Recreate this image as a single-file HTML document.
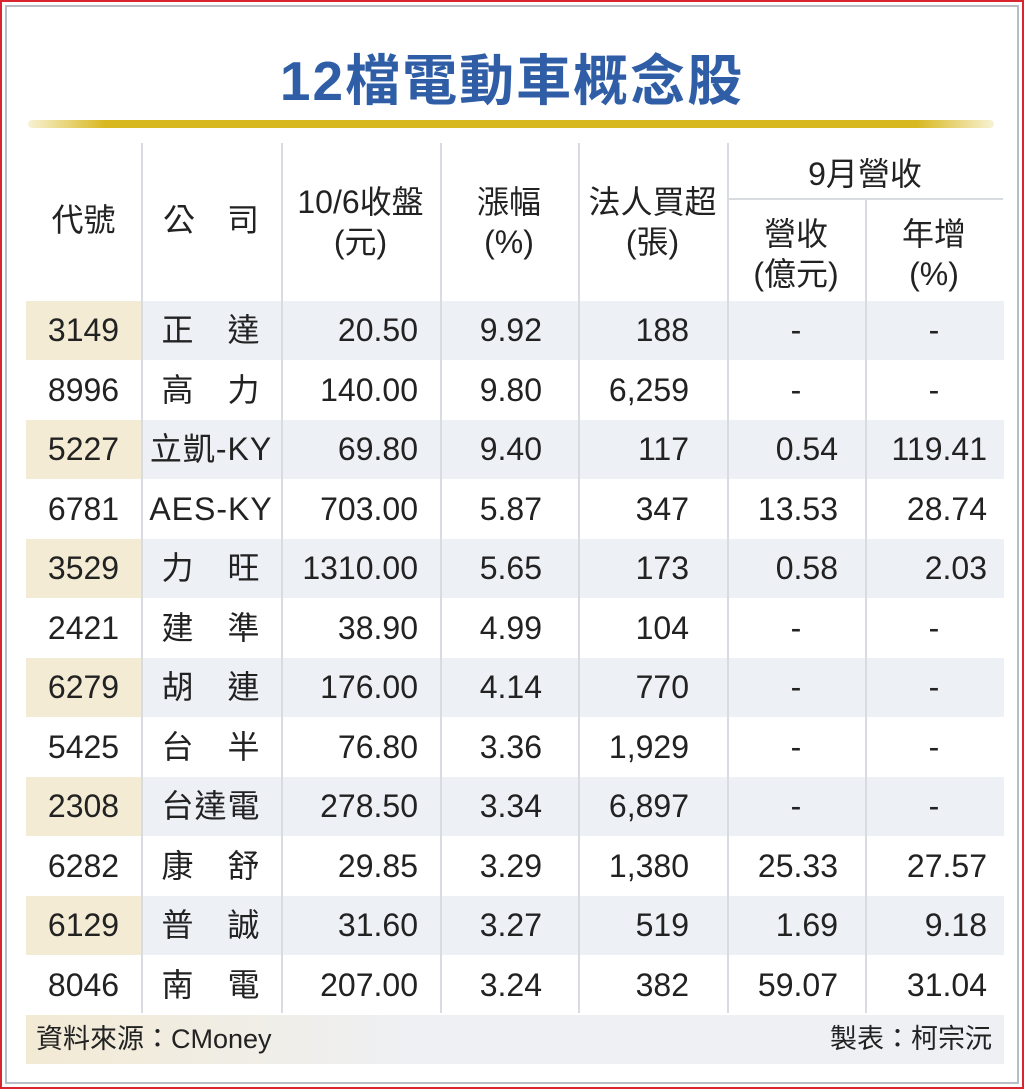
<!DOCTYPE html>
<html><head><meta charset="utf-8"><style>
body{margin:0;width:1024px;height:1089px;background:#fff;position:relative;overflow:hidden;font-family:"Liberation Sans","Noto Sans CJK TC",sans-serif;color:#222}
.a{position:absolute}
.frame{left:0;top:0;width:1020px;height:1085px;border:2px solid #d9252f}
.inner{left:5px;top:5px;width:1010px;height:1075px;border:2px solid #b8bcc4}
.title{left:0;width:1024px;top:36px;text-align:center;font-size:55px;color:#2f5ea6;font-weight:bold;letter-spacing:2px}
.gold{left:28px;top:120px;width:966px;height:8px;border-radius:4px;background:linear-gradient(90deg,rgba(220,190,40,0.2),#d8b820 8%,#d8b820 92%,rgba(220,190,40,0.2))}
.vl{width:2px;background:#d8dbe0}
.h{font-size:32px;text-align:center;line-height:40px}
.row{left:26px;width:978px;height:59px}
.c{position:absolute;top:0;height:59px;line-height:59px;font-size:32px}
</style></head><body>
<div class="a frame"></div><div class="a inner"></div>
<div class="a title">12檔電動車概念股</div>
<div class="a gold"></div>

<div class="a h" style="left:26px;width:115px;top:200px">代號</div>
<div class="a h" style="left:141px;width:140px;top:200px">公　司</div>
<div class="a h" style="left:281px;width:159px;top:182px">10/6收盤<br>(元)</div>
<div class="a h" style="left:440px;width:138px;top:182px">漲幅<br>(%)</div>
<div class="a h" style="left:578px;width:149px;top:182px">法人買超<br>(張)</div>
<div class="a h" style="left:727px;width:276px;top:154px">9月營收</div>
<div class="a" style="left:727px;top:198px;width:276px;height:2px;background:#d8dbe0"></div>
<div class="a h" style="left:727px;width:138px;top:214px">營收<br>(億元)</div>
<div class="a h" style="left:865px;width:138px;top:214px">年增<br>(%)</div>

<div id="rows"></div>
<script>
const d=[["3149","正　達","20.50","9.92","188","-","-"],["8996","高　力","140.00","9.80","6,259","-","-"],["5227","立凱-KY","69.80","9.40","117","0.54","119.41"],["6781","AES-KY","703.00","5.87","347","13.53","28.74"],["3529","力　旺","1310.00","5.65","173","0.58","2.03"],["2421","建　準","38.90","4.99","104","-","-"],["6279","胡　連","176.00","4.14","770","-","-"],["5425","台　半","76.80","3.36","1,929","-","-"],["2308","台達電","278.50","3.34","6,897","-","-"],["6282","康　舒","29.85","3.29","1,380","25.33","27.57"],["6129","普　誠","31.60","3.27","519","1.69","9.18"],["8046","南　電","207.00","3.24","382","59.07","31.04"]];
let h="";
d.forEach((r,i)=>{const y=301+i*59.5;const sh=i%2==0;
h+=`<div class="a row" style="top:${y}px;background:${sh?'#edf0f5':'#fff'}">`;
if(sh)h+=`<div class="c" style="left:0;width:115px;background:#f4ebd4"></div>`;
h+=`<div class="c" style="left:0;width:115px;text-align:center">${r[0]}</div>`;
h+=`<div class="c" style="left:115px;width:140px;text-align:center;white-space:nowrap;letter-spacing:1px">${r[1]}</div>`;
h+=`<div class="c" style="left:255px;width:137px;text-align:right">${r[2]}</div>`;
h+=`<div class="c" style="left:414px;width:102px;text-align:right">${r[3]}</div>`;
h+=`<div class="c" style="left:552px;width:111px;text-align:right">${r[4]}</div>`;
if(r[5]=="-"){h+=`<div class="c" style="left:701px;width:138px;text-align:center">-</div><div class="c" style="left:839px;width:138px;text-align:center">-</div>`}
else{h+=`<div class="c" style="left:701px;width:111px;text-align:right">${r[5]}</div><div class="c" style="left:839px;width:122px;text-align:right">${r[6]}</div>`}
h+=`</div>`;});
[141,281,440,578,727,865].forEach(x=>{h+=`<div class="a vl" style="left:${x}px;top:${x==865?200:143}px;height:${x==865?813:870}px"></div>`});
document.getElementById('rows').innerHTML=h;
</script>
<div class="a" style="left:26px;top:1015px;width:978px;height:49px;background:linear-gradient(90deg,#f3ead4,#eef0f4 40%,#eef0f4)"></div>
<div class="a" style="left:36px;top:1021px;font-size:27px;line-height:36px">資料來源：CMoney</div>
<div class="a" style="right:32px;top:1021px;font-size:27px;line-height:36px">製表：柯宗沅</div>
</body></html>
